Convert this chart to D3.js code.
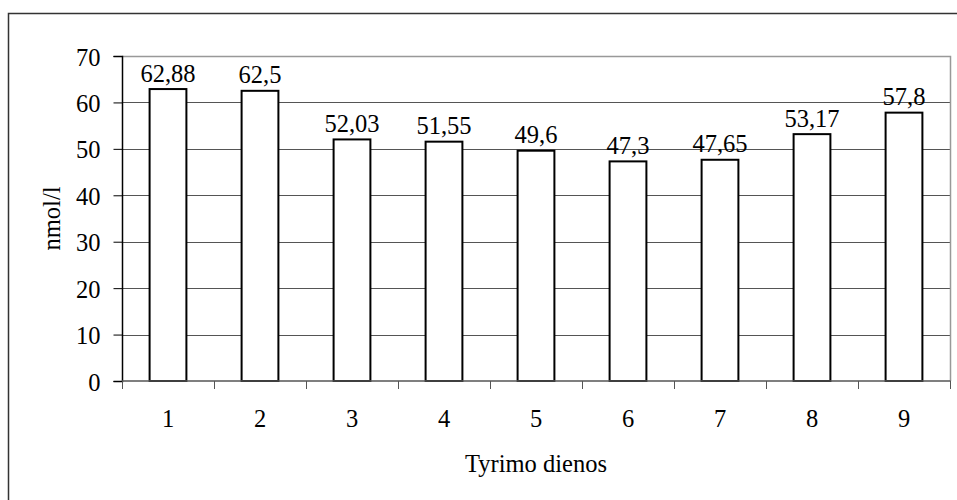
<!DOCTYPE html>
<html>
<head>
<meta charset="utf-8">
<script src="https://cdn.jsdelivr.net/npm/d3@7"></script>
</head>
<body style="margin:0">
<svg id="chart" width="957" height="500"></svg>
<script>
// Research days and measured concentration (nmol/l)
const days = ["1", "2", "3", "4", "5", "6", "7", "8", "9"];
const values = [62.88, 62.5, 52.03, 51.55, 49.6, 47.3, 47.65, 53.17, 57.8];
const valueLabels = ["62,88", "62,5", "52,03", "51,55", "49,6", "47,3", "47,65", "53,17", "57,8"];
const yTicks = [0, 10, 20, 30, 40, 50, 60, 70];
const xTitle = "Tyrimo dienos";
const yTitle = "nmol/l";

const FONT = '"Liberation Serif"';
const fontSize = 24.5;

const svg = d3.select("#chart");

function styleText(sel) {
  return sel.attr("font-family", "Liberation Serif")
    .style("font-family", FONT)
    .attr("font-size", fontSize)
    .attr("fill", "#000");
}

// Outer frame
svg.append("rect")
  .attr("x", 8.5).attr("y", 13.5)
  .attr("width", 957).attr("height", 500)
  .attr("fill", "none").attr("stroke", "#333").attr("stroke-width", 1.5);

const plot = { left: 122, right: 950, top: 56, bottom: 381 };

const x = d3.scaleBand().domain(days).range([plot.left, plot.right]).paddingInner(0.6).paddingOuter(0.3);
const xBand = d3.scaleBand().domain(days).range([plot.left, plot.right]);
const y = d3.scaleLinear().domain([0, 70]).range([plot.bottom, plot.top]);

// Gridlines
svg.append("g").selectAll("line").data(yTicks.filter(d => d > 0 && d < 70)).join("line")
  .attr("x1", plot.left).attr("x2", plot.right)
  .attr("y1", d => Math.round(y(d)) + 0.5).attr("y2", d => Math.round(y(d)) + 0.5)
  .attr("stroke", "#555").attr("stroke-width", 1);

// Plot area border (top and right)
svg.append("path")
  .attr("d", `M${plot.left},${plot.top + 0.5}H${plot.right + 0.5}V${plot.bottom}`)
  .attr("fill", "none").attr("stroke", "#999").attr("stroke-width", 1.5);

// Bars
svg.append("g").selectAll("rect").data(values).join("rect")
  .attr("x", (d, i) => x(days[i]))
  .attr("y", d => y(d))
  .attr("width", x.bandwidth())
  .attr("height", d => y(0) - y(d))
  .attr("fill", "#fff").attr("stroke", "#000").attr("stroke-width", 2);

// Value labels
svg.append("g").selectAll("text").data(values).join("text")
  .attr("x", (d, i) => x(days[i]) + x.bandwidth() / 2)
  .attr("y", d => y(d) - 7.5)
  .attr("text-anchor", "middle")
  .call(styleText)
  .text((d, i) => valueLabels[i]);

// Y axis
const yAxis = d3.axisLeft(y).tickValues(yTicks).tickSize(8.5).tickPadding(13).tickFormat(d3.format("d"));
const gy = svg.append("g").attr("transform", `translate(${plot.left},0)`).call(yAxis)
  .attr("font-family", "Liberation Serif").attr("font-size", fontSize);
gy.select(".domain").attr("stroke", "#000").attr("stroke-width", 1.5);
gy.selectAll(".tick line").attr("stroke", "#000");
gy.selectAll(".tick text").call(styleText).attr("dy", "0.37em");

// X axis: ticks on category boundaries
const xAxisG = svg.append("g").attr("transform", `translate(0,${plot.bottom})`);
xAxisG.append("line")
  .attr("x1", plot.left).attr("x2", plot.right + 0.5)
  .attr("stroke", "#555").attr("stroke-width", 1.5);
const boundaries = days.map(d => xBand(d)).concat([plot.right]);
xAxisG.selectAll("line.tk").data(boundaries).join("line").attr("class", "tk")
  .attr("x1", d => Math.round(d) + 0.5).attr("x2", d => Math.round(d) + 0.5)
  .attr("y1", 0).attr("y2", 8)
  .attr("stroke", "#555").attr("stroke-width", 1);
xAxisG.selectAll("text").data(days).join("text")
  .attr("x", d => xBand(d) + xBand.bandwidth() / 2)
  .attr("y", 45.5)
  .attr("text-anchor", "middle")
  .call(styleText)
  .text(d => d);

// Axis titles
svg.append("text")
  .attr("x", (plot.left + plot.right) / 2).attr("y", 471.5)
  .attr("text-anchor", "middle")
  .call(styleText)
  .text(xTitle);

svg.append("text")
  .attr("transform", `translate(60,${(plot.top + plot.bottom) / 2}) rotate(-90)`)
  .attr("text-anchor", "middle")
  .call(styleText)
  .text(yTitle);
</script>
</body>
</html>
